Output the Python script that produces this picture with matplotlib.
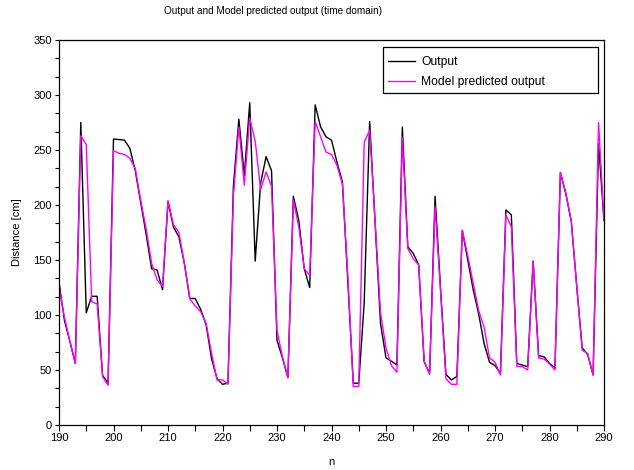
import numpy as np
import matplotlib
matplotlib.use("Agg")
import matplotlib.pyplot as plt
from matplotlib.patches import Rectangle
from matplotlib.ticker import MultipleLocator

plt.rcParams['font.family'] = ['Liberation Sans', 'DejaVu Sans']

n_start, n_end = 190, 290

# Measured distance (black) and model prediction (magenta), one value per sample n
output = [
    130, 95, 76, 56, 275, 102, 117, 117, 45, 38,
    260, 259.5, 259, 251.5, 231, 202, 173, 142, 141, 123,
    203, 180, 171, 147, 115, 115, 105, 91, 60, 42,
    37, 38, 217, 278, 227, 293, 149, 220, 244, 231,
    77, 61, 43, 208, 186, 142, 125, 291, 271, 262,
    259, 239, 221, 130, 38, 38, 111, 276, 184, 92,
    61, 58, 54.5, 271, 162, 156, 145.5, 57.6, 47, 208,
    125, 46, 41, 44, 177, 150, 123, 101, 74, 57,
    54, 47, 195.5, 191, 56, 54.5, 53, 149, 63, 62,
    56, 52, 229.5, 210, 185, 126, 70, 64, 45.5, 255.5,
    186,
]

predicted = [
    125, 98, 76, 56, 263, 255, 112, 110, 44, 36,
    249.5, 247, 246, 242.4, 233, 204, 178, 147, 132, 126,
    204, 182, 175, 147, 115, 108, 103, 92.5, 65, 41,
    41, 37, 208, 271, 218, 279, 258, 214, 230, 217,
    86, 62, 43, 204.5, 180, 142, 136, 276, 262, 248,
    246, 236, 219, 135, 35, 35, 257, 268, 185, 102,
    70, 54, 48, 261, 160.5, 151, 145.5, 58, 46, 199,
    122, 42, 37, 37, 177, 154, 129, 104, 89, 61,
    57, 45.5, 191, 180, 53.5, 53, 50, 149, 61, 60,
    55.5, 50, 229.5, 211, 185, 126, 68, 65, 45.5, 275,
    186,
]

n = np.arange(n_start, n_end + 1)

W, H = 634, 470
fig = plt.figure(figsize=(W / 100, H / 100), dpi=100)
ax = fig.add_axes([59 / W, 1 - 425 / H, (604 - 59) / W, (425 - 40) / H])

ax.plot(n, output, color='black', lw=1.0, label='Output')
ax.plot(n, predicted, color='#ff00ff', lw=1.0, label='Model predicted output')

ax.set_xlim(190, 290)
ax.set_ylim(0, 350)
ax.xaxis.set_major_locator(MultipleLocator(10))
ax.xaxis.set_minor_locator(MultipleLocator(5))
ax.yaxis.set_major_locator(MultipleLocator(50))
ax.yaxis.set_minor_locator(MultipleLocator(50 / 3))
ax.tick_params(which='both', direction='out', length=4, width=0.8,
               labelsize=8, pad=2)
ax.tick_params(axis='y', which='both', length=3)
for s in ax.spines.values():
    s.set_linewidth(0.9)

ax.set_xlabel('n', fontsize=8, labelpad=10)
ax.set_ylabel('Distance [cm]', fontsize=8, labelpad=8)

fig.text(273 / W, 1 - 11 / H, 'Output and Model predicted output (time domain)',
         ha='center', va='center', fontsize=7.2)

# Legend entries without matplotlib's own frame; a plain box is drawn around them
box = Rectangle((383 / W, 1 - 93 / H), 215 / W, 46 / H,
                transform=fig.transFigure, facecolor='white',
                edgecolor='black', lw=0.9, zorder=4, clip_on=False)
ax.add_artist(box)
leg = ax.legend(loc='upper left', bbox_to_anchor=(388 / W, 1 - 56 / H),
                bbox_transform=fig.transFigure, fontsize=8.7, frameon=False,
                handlelength=2.25, handletextpad=0.5, borderpad=0,
                borderaxespad=0, labelspacing=0.65)
leg.set_zorder(5)

fig.savefig('out.png', dpi=100)
